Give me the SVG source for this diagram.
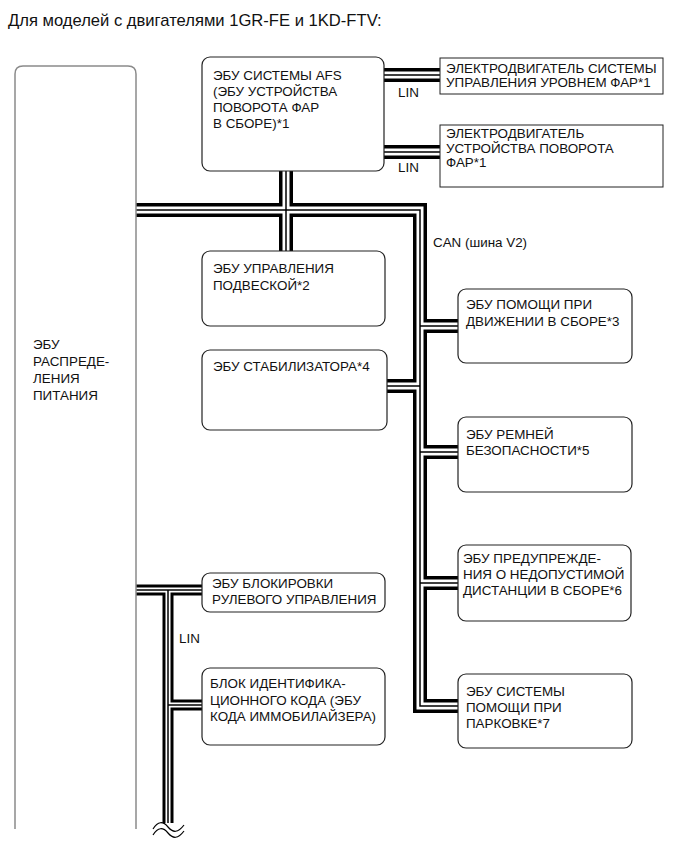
<svg xmlns="http://www.w3.org/2000/svg" width="690" height="855" viewBox="0 0 690 855">
<style>
text{font-family:"Liberation Sans",Arial,sans-serif;font-size:13.4px;fill:#111}
.title{font-size:16.6px}
.rbox{fill:#fff;stroke:#222;stroke-width:1.2}
.sbox{fill:#fff;stroke:#222;stroke-width:1}
.big{fill:none;stroke:#8a8a8a;stroke-width:1.5}
.b1{fill:none;stroke:#000;stroke-width:14;stroke-linejoin:miter}
.b2{fill:none;stroke:#fff;stroke-width:7;stroke-linejoin:miter}
.b3{fill:none;stroke:#000;stroke-width:1.5;stroke-linejoin:miter}
.l1{fill:none;stroke:#000;stroke-width:11;stroke-linejoin:miter}
.l2{fill:none;stroke:#fff;stroke-width:5;stroke-linejoin:miter}
.l3{fill:none;stroke:#000;stroke-width:1.5}
.wave{fill:none;stroke:#000;stroke-width:1.2}
</style>
<text class="title" x="8" y="26">Для моделей с двигателями 1GR-FE и 1KD-FTV:</text>

<g id="connectors">
  <g id="can-bus">
    <path class="b1" d="M136,210 H420 V706 H458"/>
    <path class="b1" d="M286,171 V251"/>
    <path class="b1" d="M420,326 H458 M420,452 H458 M420,583 H458 M420,386 H387"/>
    <path class="b1" d="M384,75 H440 M384,152 H440"/>
    <path class="b2" d="M136,210 H420 V706 H458"/>
    <path class="b2" d="M286,171 V251"/>
    <path class="b2" d="M420,326 H458 M420,452 H458 M420,583 H458 M420,386 H387"/>
    <path class="b2" d="M384,75 H440 M384,152 H440"/>
    <path class="b3" d="M136,210 H420 V706 H458"/>
    <path class="b3" d="M286,171 V251"/>
    <path class="b3" d="M420,326 H458 M420,452 H458 M420,583 H458 M420,386 H387"/>
    <path class="b3" d="M384,75 H440 M384,152 H440"/>
  </g>
  <g id="lin-bus">
    <path class="l1" d="M136,590 H202 M168,590 V823 M168,705 H202"/>
    <path class="l2" d="M136,590 H202 M168,590 V823 M168,705 H202"/>
    <path class="l3" d="M136,590 H202 M168,590 V823 M168,705 H202"/>
    <path class="wave" d="M153,829 C158,821 163,821 168,827 S178,833 184,825"/>
    <path class="wave" d="M153,835 C158,827 163,827 168,833 S178,839 184,831"/>
  </g>
  <text x="398" y="97">LIN</text>
  <text x="398" y="172">LIN</text>
  <text x="433" y="247">CAN (шина V2)</text>
  <text x="179" y="643">LIN</text>
</g>

<g id="power-ecu">
  <path class="big" d="M15,829 V74 Q15,66 23,66 H128 Q136,66 136,74 V829"/>
  <text x="33" y="349">ЭБУ</text>
  <text x="33" y="366">РАСПРЕДЕ-</text>
  <text x="33" y="383">ЛЕНИЯ</text>
  <text x="33" y="400">ПИТАНИЯ</text>
</g>

<g id="afs-ecu">
  <rect class="rbox" x="202" y="57" width="182" height="114" rx="8"/>
  <text x="213" y="80">ЭБУ СИСТЕМЫ AFS</text>
  <text x="213" y="96">(ЭБУ УСТРОЙСТВА</text>
  <text x="213" y="112">ПОВОРОТА ФАР</text>
  <text x="213" y="128">В СБОРЕ)*1</text>
</g>

<g id="leveling-motor">
  <rect class="sbox" x="440" y="58" width="223" height="36"/>
  <text x="446" y="73">ЭЛЕКТРОДВИГАТЕЛЬ СИСТЕМЫ</text>
  <text x="446" y="87">УПРАВЛЕНИЯ УРОВНЕМ ФАР*1</text>
</g>

<g id="swivel-motor">
  <rect class="sbox" x="440" y="125" width="223" height="62"/>
  <text x="446" y="138">ЭЛЕКТРОДВИГАТЕЛЬ</text>
  <text x="446" y="152.5">УСТРОЙСТВА ПОВОРОТА</text>
  <text x="446" y="167">ФАР*1</text>
</g>

<g id="suspension-ecu">
  <rect class="rbox" x="202" y="251" width="183" height="75" rx="8"/>
  <text x="213" y="273">ЭБУ УПРАВЛЕНИЯ</text>
  <text x="213" y="290">ПОДВЕСКОЙ*2</text>
</g>

<g id="stabilizer-ecu">
  <rect class="rbox" x="202" y="350" width="185" height="80" rx="8"/>
  <text x="213" y="371">ЭБУ СТАБИЛИЗАТОРА*4</text>
</g>

<g id="driving-support-ecu">
  <rect class="rbox" x="458" y="289" width="174" height="74" rx="8"/>
  <text x="466" y="309">ЭБУ ПОМОЩИ ПРИ</text>
  <text x="466" y="326">ДВИЖЕНИИ В СБОРЕ*3</text>
</g>

<g id="seatbelt-ecu">
  <rect class="rbox" x="458" y="417" width="174" height="75" rx="8"/>
  <text x="466" y="439">ЭБУ РЕМНЕЙ</text>
  <text x="466" y="455">БЕЗОПАСНОСТИ*5</text>
</g>

<g id="distance-warning-ecu">
  <rect class="rbox" x="458" y="545" width="173" height="76" rx="8"/>
  <text x="463" y="563">ЭБУ ПРЕДУПРЕЖДЕ-</text>
  <text x="463" y="579">НИЯ О НЕДОПУСТИМОЙ</text>
  <text x="463" y="595">ДИСТАНЦИИ В СБОРЕ*6</text>
</g>

<g id="parking-assist-ecu">
  <rect class="rbox" x="458" y="674" width="174" height="74" rx="8"/>
  <text x="466" y="696">ЭБУ СИСТЕМЫ</text>
  <text x="466" y="712">ПОМОЩИ ПРИ</text>
  <text x="466" y="728">ПАРКОВКЕ*7</text>
</g>

<g id="steering-lock-ecu">
  <rect class="rbox" x="202" y="573" width="183" height="39" rx="8"/>
  <text x="212" y="588">ЭБУ БЛОКИРОВКИ</text>
  <text x="212" y="604">РУЛЕВОГО УПРАВЛЕНИЯ</text>
</g>

<g id="immobiliser-ecu">
  <rect class="rbox" x="202" y="668" width="183" height="77" rx="8"/>
  <text x="210" y="688">БЛОК ИДЕНТИФИКА-</text>
  <text x="210" y="705">ЦИОННОГО КОДА (ЭБУ</text>
  <text x="210" y="721">КОДА ИММОБИЛАЙЗЕРА)</text>
</g>
</svg>
